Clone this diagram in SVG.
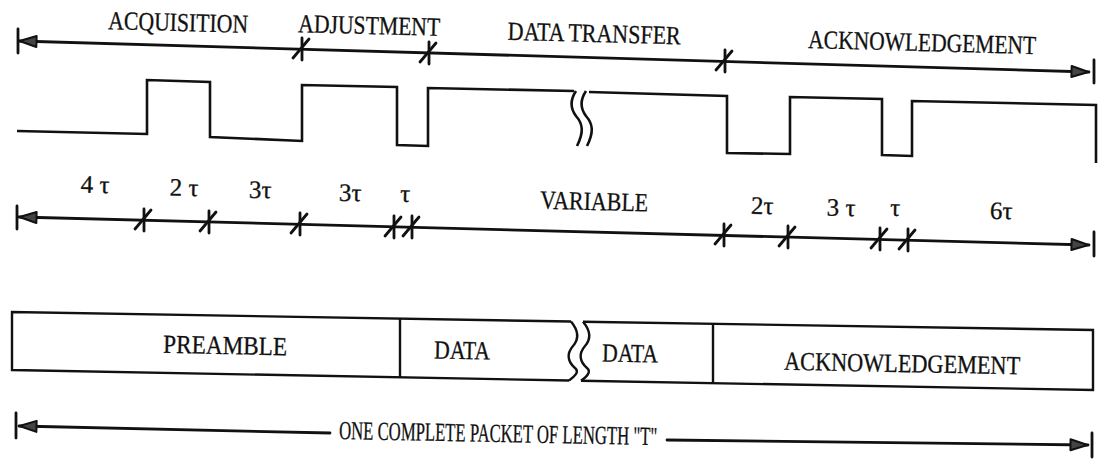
<svg xmlns="http://www.w3.org/2000/svg" width="1103" height="459" viewBox="0 0 1103 459">
<defs>
<style>
.ln{fill:none;stroke:#111;stroke-width:2.8;stroke-linecap:round;stroke-linejoin:round}
.wv{fill:none;stroke:#111;stroke-width:2.6;stroke-linejoin:miter}
.bx{fill:none;stroke:#111;stroke-width:2.4;stroke-linejoin:miter}
.t{font-family:"Liberation Serif","Times New Roman",Times,serif;font-size:26px;fill:#111;stroke:#111;stroke-width:0.3}
.s{font-family:"Liberation Serif","Times New Roman",Times,serif;font-size:25px;fill:#111;stroke:#111;stroke-width:0.3}
.tk{fill:none;stroke:#111;stroke-width:2.8;stroke-linecap:round}
</style>
<marker id="ah" viewBox="0 0 20 14" refX="19" refY="7" markerWidth="20" markerHeight="14" markerUnits="userSpaceOnUse" orient="auto-start-reverse">
<path d="M1.5,1.5 L18.5,7 L1.5,12.5 Z" fill="#444" stroke="#111" stroke-width="2" stroke-linejoin="round"/>
</marker>
<g id="tick"><line x1="1" y1="-11" x2="1" y2="11"/><line x1="-8" y1="9" x2="8" y2="-10"/></g>
</defs>
<rect width="1103" height="459" fill="#fff"/>

<g id="connectors">
<line class="ln" x1="19" y1="41" x2="1089" y2="72" marker-start="url(#ah)" marker-end="url(#ah)"/>
<line class="ln" x1="18" y1="29" x2="18" y2="53"/>
<line class="ln" x1="1094" y1="60" x2="1094" y2="83"/>
<g class="tk">
<use href="#tick" x="301" y="49"/>
<use href="#tick" x="428" y="53"/>
<use href="#tick" x="724" y="61"/>
</g>
<line class="ln" x1="19" y1="217" x2="1089" y2="245" marker-start="url(#ah)" marker-end="url(#ah)"/>
<line class="ln" x1="17" y1="206" x2="17" y2="229"/>
<line class="ln" x1="1094" y1="232" x2="1094" y2="256"/>
<g class="tk">
<use href="#tick" x="143" y="220"/>
<use href="#tick" x="208" y="222"/>
<use href="#tick" x="299" y="224"/>
<use href="#tick" x="393" y="227"/>
<use href="#tick" x="411" y="227"/>
<use href="#tick" x="723" y="235"/>
<use href="#tick" x="787" y="237"/>
<use href="#tick" x="879" y="239"/>
<use href="#tick" x="907" y="240"/>
</g>
<line class="ln" x1="19" y1="426" x2="330" y2="433" marker-start="url(#ah)"/>
<line class="ln" x1="667" y1="440" x2="1088" y2="445" marker-end="url(#ah)"/>
<line class="ln" x1="16" y1="413" x2="16" y2="438"/>
<line class="ln" x1="1092" y1="433" x2="1092" y2="457"/>
</g>

<g id="waveform">
<path class="wv" d="M17,131 L147,134 L147,80 L210,82 L210,137 L302,141 L302,85 L397,87 L397,145 L428,146 L428,88 L574,91"/>
<path class="wv" d="M589,92 L727,96 L727,153 L790,154 L790,97 L882,99 L882,155 L912,156 L912,101 L1096,105 L1096,163"/>
<path class="wv" d="M576,91 C570,100 570,108 576,116 C583,124 584,132 577,146"/>
<path class="wv" d="M586,91 C580,100 580,108 586,116 C593,124 594,132 587,146"/>
</g>

<g id="phase-labels">
<text class="t" x="178" y="31" text-anchor="middle" textLength="140" lengthAdjust="spacingAndGlyphs" transform="rotate(1.5 178 31)">ACQUISITION</text>
<text class="t" x="369" y="34" text-anchor="middle" textLength="142" lengthAdjust="spacingAndGlyphs" transform="rotate(1.5 369 34)">ADJUSTMENT</text>
<text class="t" x="594" y="42" text-anchor="middle" textLength="173" lengthAdjust="spacingAndGlyphs" transform="rotate(1.5 594 42)">DATA TRANSFER</text>
<text class="t" x="922" y="51" text-anchor="middle" textLength="228" lengthAdjust="spacingAndGlyphs" transform="rotate(1.5 922 51)">ACKNOWLEDGEMENT</text>
</g>

<g id="tau-labels">
<text class="s" x="95" y="193" text-anchor="middle" transform="rotate(1.5 95 193)">4 τ</text>
<text class="s" x="184" y="196" text-anchor="middle" transform="rotate(1.5 184 196)">2 τ</text>
<text class="s" x="260" y="198" text-anchor="middle" transform="rotate(1.5 260 198)">3τ</text>
<text class="s" x="350" y="201" text-anchor="middle" transform="rotate(1.5 350 201)">3τ</text>
<text class="s" x="405" y="202" text-anchor="middle" transform="rotate(1.5 405 202)">τ</text>
<text class="t" x="594" y="210" text-anchor="middle" textLength="108" lengthAdjust="spacingAndGlyphs" transform="rotate(1.5 594 210)">VARIABLE</text>
<text class="s" x="762" y="214" text-anchor="middle" transform="rotate(1.5 762 214)">2τ</text>
<text class="s" x="841" y="216" text-anchor="middle" transform="rotate(1.5 841 216)">3 τ</text>
<text class="s" x="895" y="216" text-anchor="middle" transform="rotate(1.5 895 216)">τ</text>
<text class="s" x="1001" y="219" text-anchor="middle" transform="rotate(1.5 1001 219)">6τ</text>
</g>

<g id="packet">
<path class="bx" d="M571,321.5 L12,312 L12,370 L569,380.5"/>
<path class="bx" d="M583,321.7 L1093,330 L1093,390 L581,380.8"/>
<line class="bx" x1="400" y1="318.5" x2="400" y2="377.2"/>
<line class="bx" x1="713" y1="323.8" x2="713" y2="383"/>
<path class="bx" d="M571,321.5 C578,330 580,338 573,346 C566,354 568,362 575,368 C580,372 574,377 569,380.5"/>
<path class="bx" d="M583,321.7 C590,330 592,338 585,346 C578,354 580,362 587,368 C592,372 586,377 581,380.8"/>
</g>

<g id="packet-labels">
<text class="t" x="225" y="354" text-anchor="middle" textLength="124" lengthAdjust="spacingAndGlyphs" transform="rotate(1.1 225 354)">PREAMBLE</text>
<text class="t" x="462" y="359" text-anchor="middle" textLength="56" lengthAdjust="spacingAndGlyphs" transform="rotate(1.1 462 359)">DATA</text>
<text class="t" x="630" y="362" text-anchor="middle" textLength="56" lengthAdjust="spacingAndGlyphs" transform="rotate(1.1 630 362)">DATA</text>
<text class="t" x="902" y="372" text-anchor="middle" textLength="236" lengthAdjust="spacingAndGlyphs" transform="rotate(1.1 902 372)">ACKNOWLEDGEMENT</text>
<text class="t" x="498" y="442" text-anchor="middle" textLength="318" lengthAdjust="spacingAndGlyphs" transform="rotate(1.1 498 442)">ONE COMPLETE PACKET OF LENGTH "T"</text>
</g>
</svg>
